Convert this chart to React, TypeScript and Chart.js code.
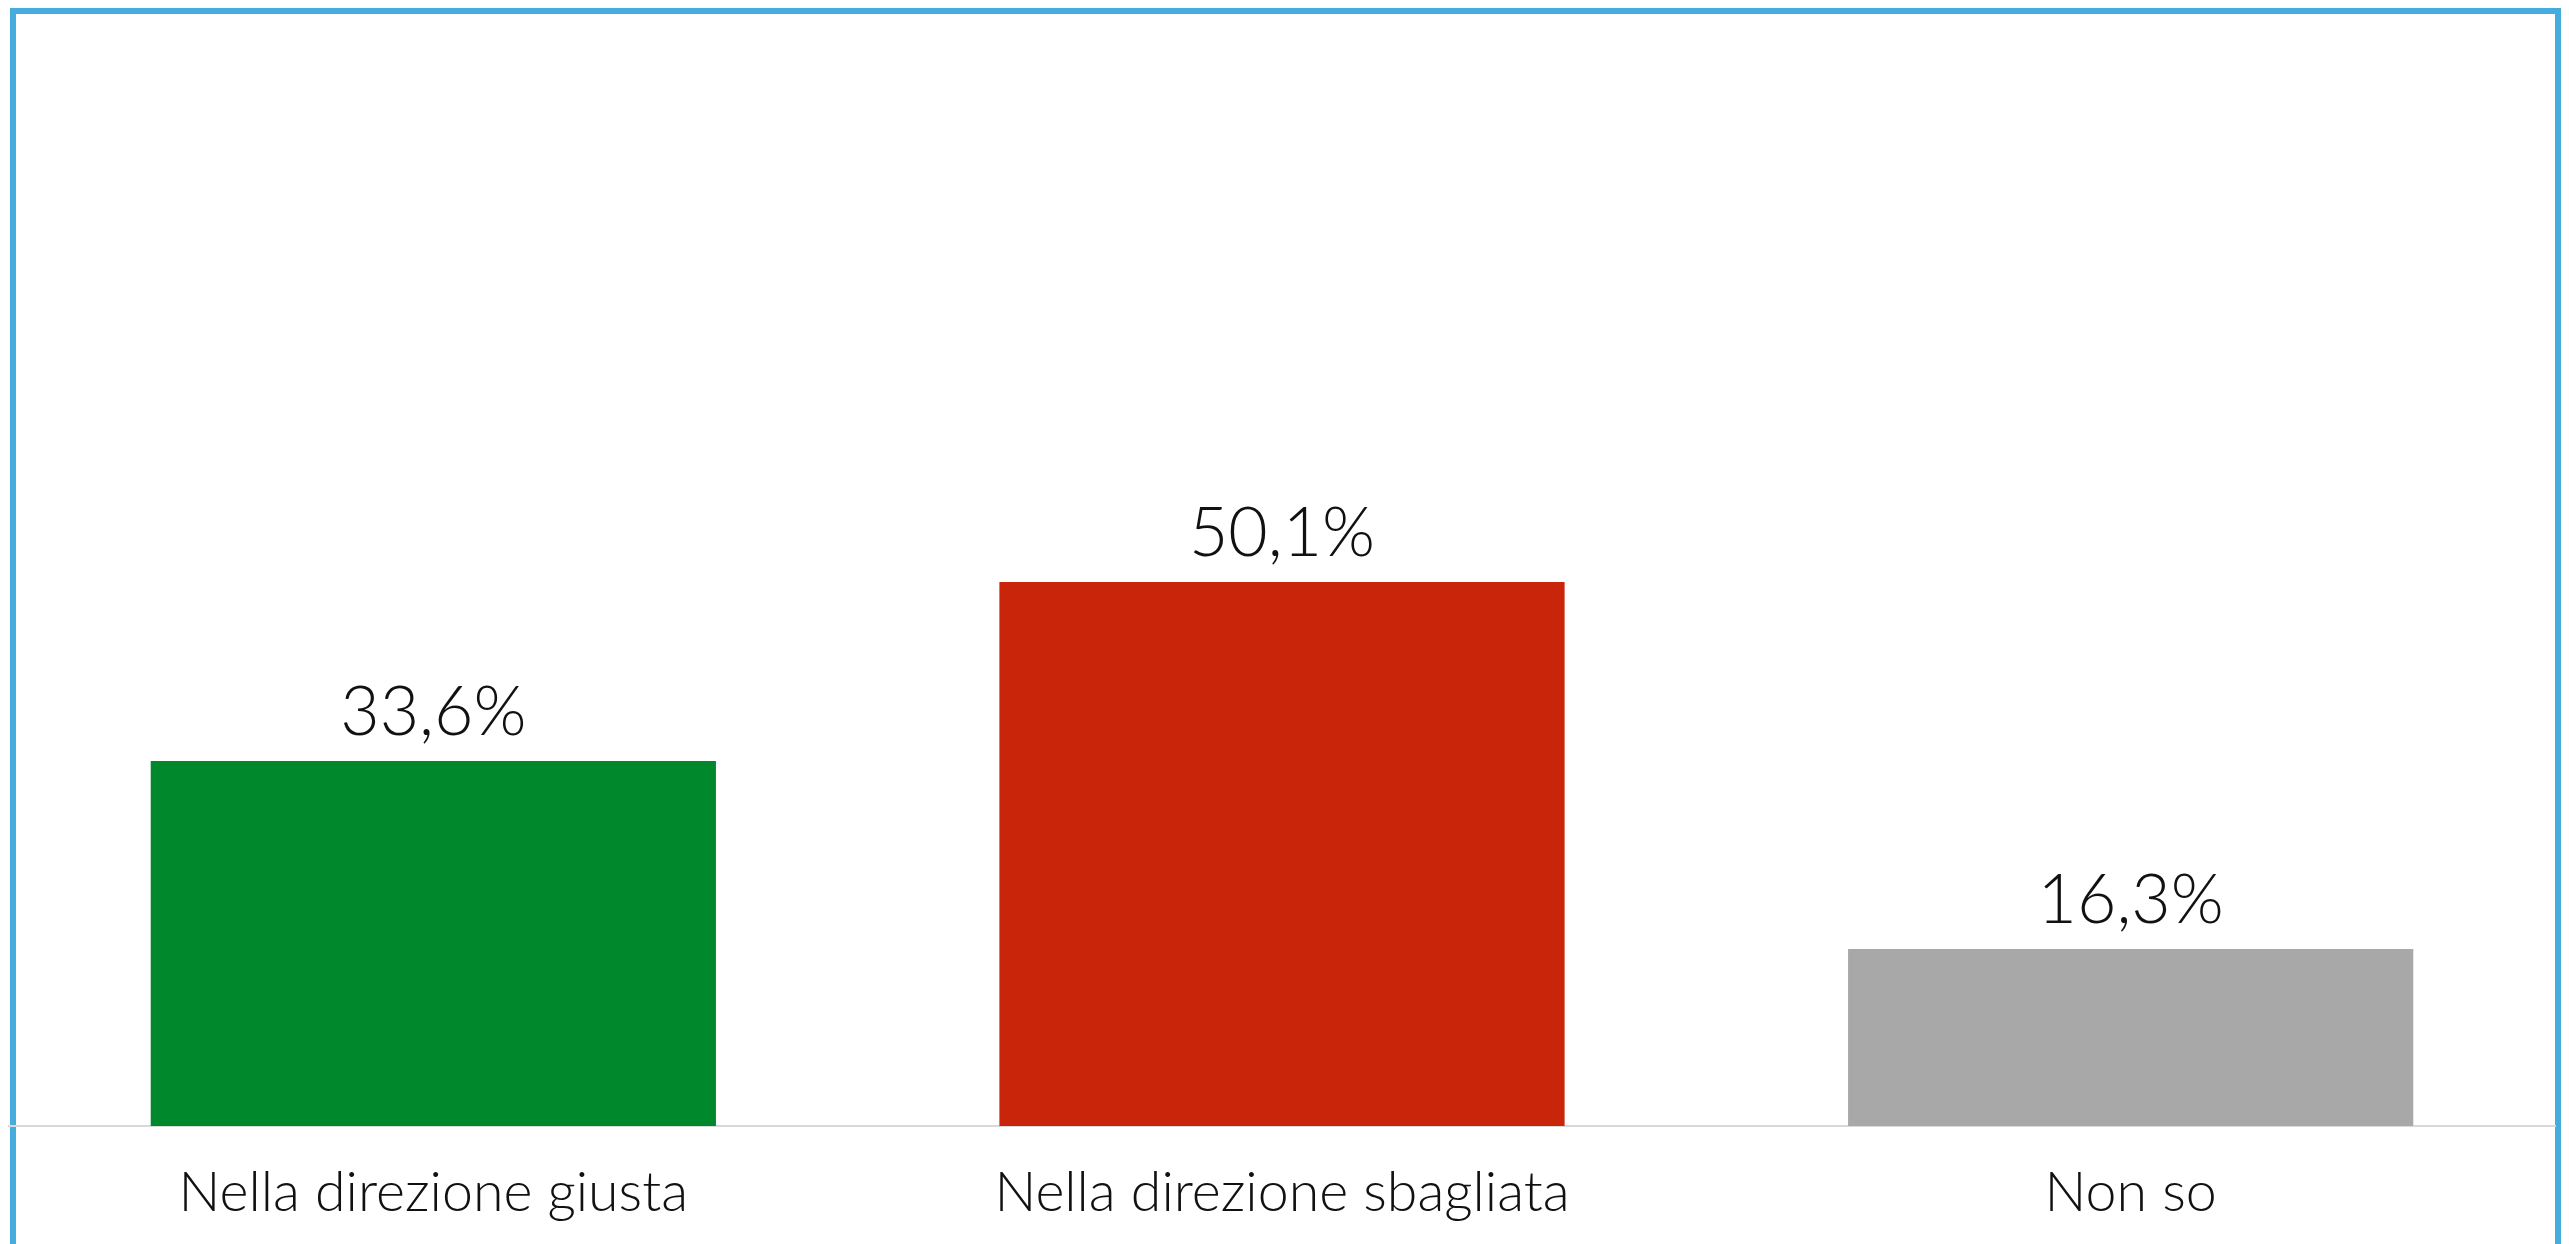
import React, { useEffect, useRef } from 'react';
import { Chart, registerables } from 'chart.js';

Chart.register(...registerables);

const categories = ['Nella direzione giusta', 'Nella direzione sbagliata', 'Non so'];
const values = [33.6, 50.1, 16.3];
const valueLabels = ['33,6%', '50,1%', '16,3%'];
const barColors = ['#00882C', '#C8250A', '#A8A8A8'];

const FONT = 'Lato, "Open Sans", "Liberation Sans", Arial, sans-serif';
const FONT_WEIGHT = '300';
const TEXT_COLOR = '#111111';

const valueLabelPlugin = {
  id: 'valueLabels',
  afterDatasetsDraw(chart: any) {
    const ctx = chart.ctx;
    const meta = chart.getDatasetMeta(0);
    ctx.save();
    ctx.font = `${FONT_WEIGHT} 68px ${FONT}`;
    ctx.fillStyle = TEXT_COLOR;
    ctx.textAlign = 'center';
    ctx.textBaseline = 'alphabetic';
    meta.data.forEach((bar: any, i: number) => {
      ctx.fillText(valueLabels[i], bar.x, bar.y - 26);
    });
    ctx.restore();
  },
};

export default function App() {
  const canvasRef = useRef<HTMLCanvasElement | null>(null);

  useEffect(() => {
    if (!canvasRef.current) return;
    const chart = new Chart(canvasRef.current, {
      type: 'bar',
      data: {
        labels: categories,
        datasets: [
          {
            data: values,
            backgroundColor: barColors,
            borderWidth: 0,
            categoryPercentage: 1,
            barPercentage: 0.666,
          },
        ],
      },
      options: {
        animation: false,
        responsive: true,
        maintainAspectRatio: false,
        layout: { padding: { left: 9, right: 14, top: 40, bottom: 0 } },
        plugins: {
          legend: { display: false },
          tooltip: { enabled: false },
          title: { display: false },
        },
        scales: {
          x: {
            grid: { display: false, drawTicks: false },
            border: { display: true, color: '#D9D9D9', width: 2 },
            ticks: {
              color: TEXT_COLOR,
              font: { family: FONT, size: 55.5, weight: FONT_WEIGHT as any },
              padding: 34,
              maxRotation: 0,
              autoSkip: false,
            },
            afterFit: (scale: any) => {
              scale.height = 118;
            },
          },
          y: { display: false, min: 0, max: 100 },
        },
      },
      plugins: [valueLabelPlugin],
    });
    return () => chart.destroy();
  }, []);

  return (
    <div
      style={{
        position: 'absolute',
        left: 0,
        top: 0,
        width: 2569,
        height: 1244,
        overflow: 'hidden',
        background: '#ffffff',
      }}
    >
      <div
        style={{
          position: 'absolute',
          left: 10,
          top: 8,
          width: 2551,
          height: 1300,
          border: '6px solid #45ACDD',
          boxSizing: 'border-box',
        }}
      />
      <div style={{ position: 'absolute', left: 0, top: 0, width: 2569, height: 1244 }}>
        <canvas ref={canvasRef} />
      </div>
    </div>
  );
}
